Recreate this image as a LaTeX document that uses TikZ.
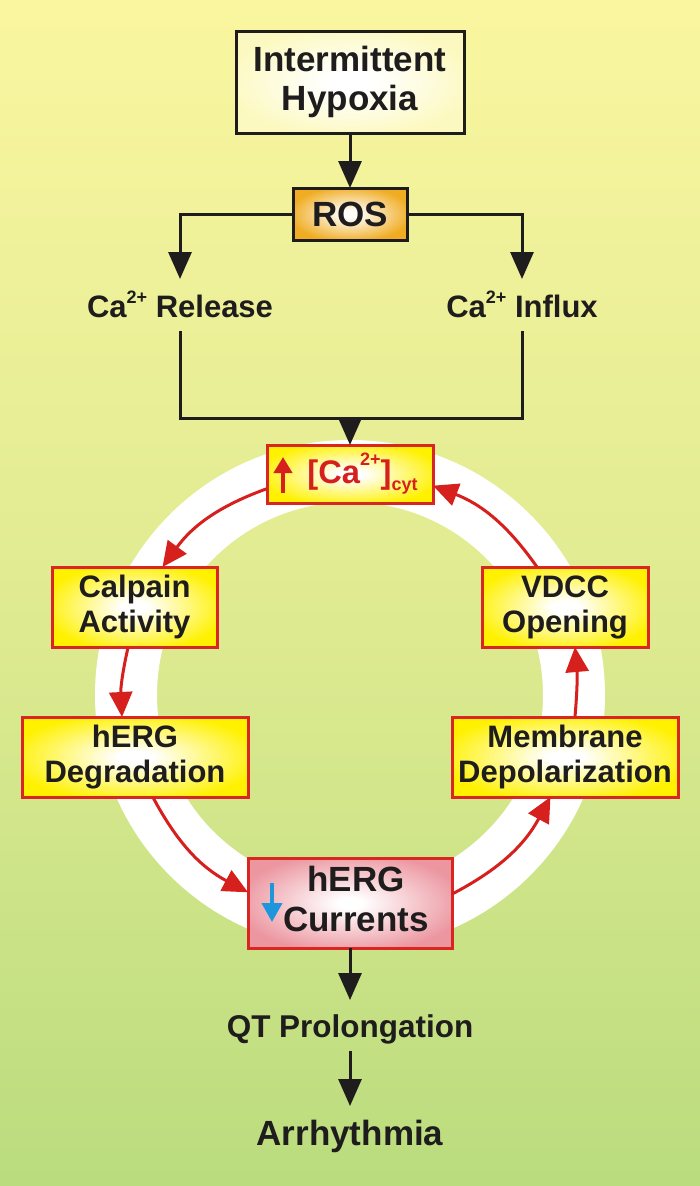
\documentclass[tikz,border=0pt]{standalone}
\usepackage{fontspec}
\setmainfont{Liberation Sans}
\usetikzlibrary{arrows.meta,calc}
\definecolor{bgtop}{RGB}{250,246,160}
\definecolor{bgmid}{RGB}{224,235,145}
\definecolor{bgbot}{RGB}{186,220,126}
\definecolor{txt}{RGB}{30,28,28}
\definecolor{bdark}{RGB}{30,28,28}
\definecolor{bred}{RGB}{218,38,34}
\definecolor{arred}{RGB}{214,32,30}
\definecolor{boxyellow}{RGB}{255,241,0}
\definecolor{rosorange}{RGB}{240,172,34}
\definecolor{ihcream}{RGB}{252,249,192}
\definecolor{herpink}{RGB}{236,150,160}
\definecolor{arblue}{RGB}{30,150,220}
\pgfdeclareradialshading{yelshade}{\pgfpoint{0bp}{0bp}}{color(0bp)=(white); color(4bp)=(white); color(28bp)=(boxyellow); color(50bp)=(boxyellow)}
\pgfdeclareradialshading{rosshade}{\pgfpoint{0bp}{0bp}}{color(0bp)=(white); color(3bp)=(white); color(27bp)=(rosorange); color(50bp)=(rosorange)}
\pgfdeclareradialshading{ihshade}{\pgfpoint{0bp}{0bp}}{color(0bp)=(white); color(5bp)=(white); color(27bp)=(ihcream); color(50bp)=(ihcream)}
\pgfdeclareradialshading{pinkshade}{\pgfpoint{0bp}{0bp}}{color(0bp)=(white); color(3bp)=(white); color(28bp)=(herpink); color(50bp)=(herpink)}
\def\px{0.75pt}
\begin{document}
\begin{tikzpicture}[x=0.75pt,y=0.75pt,
  base/.style={font=\bfseries, text=txt, inner sep=0pt, outer sep=0pt},
  fbig/.style={font=\bfseries\fontsize{26.25}{29.25}\selectfont},
  fmid/.style={font=\bfseries\fontsize{23.25}{26.25}\selectfont},
  bbox/.style={base, draw=bdark, line width=3*\px, align=center},
  rbox/.style={base, draw=bred, line width=3*\px, align=center, shading=yelshade},
  lbl/.style={base, anchor=base, text height=24*\px, text depth=0pt, inner ysep=14*\px},
  blkline/.style={draw=bdark, line width=3*\px},
  blk/.style={blkline, -{Triangle[length=27*\px,width=23*\px]}},
  redarr/.style={draw=arred, line width=3*\px, -{Triangle[length=25*\px,width=23*\px]}}
]
\shade[top color=bgtop, bottom color=bgbot, middle color=bgmid] (0,0) rectangle (700,-1186);
\useasboundingbox (0,0) rectangle (700,-1186);
\fill[white, even odd rule] (350,-695) circle[radius=255] (350,-695) circle[radius=193];

\node[bbox, fbig, shading=ihshade, minimum width=228*\px, minimum height=102*\px] (ih) at (350,-82) {Intermittent\\Hypoxia};
\node[bbox, fbig, shading=rosshade, minimum width=114*\px, minimum height=52*\px] (ros) at (350,-214) {ROS};
\node[lbl, fmid] (rel) at (180,-317) {Ca\raisebox{10.5pt}{\fontsize{13.5}{13.5}\selectfont 2+} Release};
\node[lbl, fmid] (inf) at (522,-317) {Ca\raisebox{10.5pt}{\fontsize{13.5}{13.5}\selectfont 2+} Influx};

\node[rbox, text=arred, font=\bfseries\fontsize{24.5}{28}\selectfont, minimum width=166*\px, minimum height=58*\px] (cyt) at (350,-474)
  {\hspace*{18.75pt}[Ca\raisebox{13.5pt}{\fontsize{13.5}{13.5}\selectfont 2+}]\raisebox{-5.25pt}{\fontsize{13.5}{13.5}\selectfont cyt}};

\node[rbox, fmid, minimum width=165*\px, minimum height=80*\px] (cal) at (134.5,-607) {Calpain\\Activity};
\node[rbox, fmid, minimum width=226*\px, minimum height=80*\px] (deg) at (135,-757) {hERG\\Degradation};
\node[rbox, fmid, minimum width=166*\px, minimum height=80*\px] (vdcc) at (565,-607) {VDCC\\Opening};
\node[rbox, fmid, minimum width=226*\px, minimum height=80*\px] (mem) at (565,-757) {Membrane\\Depolarization};
\node[rbox, shading=pinkshade, font=\bfseries\fontsize{26.25}{30}\selectfont, minimum width=204*\px, minimum height=90*\px] (cur) at (350,-903)
  {\hspace*{9pt}\begin{tabular}{@{}c@{}}hERG\\Currents\end{tabular}};

\node[lbl, font=\bfseries\fontsize{23.6}{26}\selectfont, text height=23*\px] (qt) at (350,-1037) {QT Prolongation};
\node[lbl, fbig, text height=25*\px] (arr) at (350,-1145) {Arrhythmia};

% black connectors
\draw[blk] (ih) -- (ros);
\draw[blk] (ros.west) -| (rel.north);
\draw[blk] (ros.east) -| (inf.north);
\coordinate (mg) at (350,-418);
\draw[blkline] (rel.south) |- (mg) -| (inf.south);
\draw[blk] (mg) -- (cyt);
\draw[blk] (cur) -- (qt);
\draw[blk] (qt) -- (arr);

% red cycle
\draw[redarr] (cyt.190) to[bend right=17] (cal.55);
\draw[redarr] (cal.261) to[bend right=8] (deg.108);
\draw[redarr] (deg.294) to[bend right=17] (cur.174);
\draw[redarr] (cur.5) to[bend right=17] (mem.250);
\draw[redarr] (mem.76) to[bend right=5] (vdcc.284);
\draw[redarr] (vdcc.125) to[bend right=17] (cyt.352);

% glyph arrows inside boxes
\draw[draw=arred, line width=4*\px, -{Triangle[length=16*\px,width=18*\px]}] ($(cyt.center)+(-67,-19)$) -- ($(cyt.center)+(-67,17)$);
\draw[draw=arblue, line width=4*\px, -{Triangle[length=19*\px,width=20*\px]}] ($(cur.center)+(-78,20)$) -- ($(cur.center)+(-78,-19)$);
\end{tikzpicture}
\end{document}
